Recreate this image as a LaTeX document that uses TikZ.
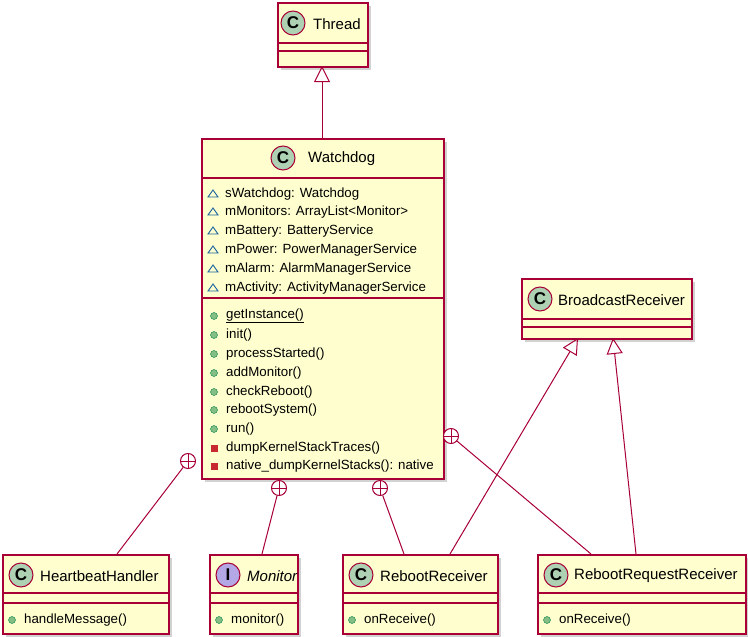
\documentclass[tikz,border=0pt]{standalone}
\usepackage{fontspec}
\setmainfont{Liberation Sans}
\usetikzlibrary{shadows,arrows.meta}
\definecolor{umlred}{HTML}{A80036}
\definecolor{umlfill}{HTML}{FEFECE}
\definecolor{clsicon}{HTML}{ADD1B2}
\definecolor{ificon}{HTML}{B4A7E5}
\definecolor{pubg}{HTML}{84BE84}
\definecolor{pubb}{HTML}{038048}
\definecolor{privr}{HTML}{C82930}
\definecolor{pkgb}{HTML}{1963A0}
\tikzset{
  box/.style={draw=umlred,fill=umlfill,line width=1.5pt,anchor=north west,inner sep=0pt,
    drop shadow={shadow xshift=3pt,shadow yshift=-3pt,fill=black!35}},
  sep/.style={draw=umlred,line width=1.2pt},
  icon/.style={circle,draw=umlred,line width=1pt,minimum size=24pt,inner sep=0pt,font=\fontsize{17}{17}\selectfont\bfseries\rmfamily},
  title/.style={anchor=west,inner sep=0pt,font=\fontsize{15}{15}\selectfont},
  member/.style={anchor=west,inner sep=0pt,font=\fontsize{13.3}{13.3}\selectfont},
  link/.style={draw=umlred,line width=1pt},
  nest/.style={circle,draw=umlred,fill=white,line width=1pt,minimum size=15pt,inner sep=0pt,
    path picture={\draw[umlred,line width=1pt] (path picture bounding box.north)--(path picture bounding box.south)
      (path picture bounding box.west)--(path picture bounding box.east);}},
  inherit/.style={link,-{Triangle[open,length=16pt,width=16pt,line width=1pt]}}
}
\newcommand\pubm[3]{\node[circle,fill=pubg,draw=pubb,minimum size=7pt,inner sep=0pt] at (#1,#2) {};
  \node[member] at (#1+12,#2) {#3};}
\newcommand\privm[3]{\node[rectangle,fill=privr,minimum size=7pt,inner sep=0pt] at (#1,#2) {};
  \node[member] at (#1+12,#2) {#3};}
\newcommand\pkgm[3]{\draw[pkgb,line width=0.9pt] (#1-5,#2+3)--(#1+5,#2+3)--(#1,#2-4)--cycle;
  \node[member] at (#1+12,#2) {#3};}
\begin{document}
\begin{tikzpicture}[x=1pt,y=-1pt]
\useasboundingbox (0,0) rectangle (748,637);
% Thread
\node[box,minimum width=90pt,minimum height=64pt] (thread) at (277,2) {};
\draw[sep] (277,43)--(367,43) (277,51)--(367,51);
\node[icon,fill=clsicon] at (293,23) {C};
\node[title] at (313,24) {Thread};
% Watchdog
\node[box,minimum width=242pt,minimum height=340pt] (wd) at (201,138) {};
\draw[sep] (201,178)--(443,178) (201,298)--(443,298);
\node[icon,fill=clsicon] at (283,158) {C};
\node[title] at (308,159) {Watchdog};
\pkgm{213}{194}{sWatchdog: Watchdog}
\pkgm{213}{212}{mMonitors: ArrayList<Monitor>}
\pkgm{213}{231}{mBattery: BatteryService}
\pkgm{213}{250}{mPower: PowerManagerService}
\pkgm{213}{269}{mAlarm: AlarmManagerService}
\pkgm{213}{288}{mActivity: ActivityManagerService}
\pubm{214}{316}{\underline{getInstance()}}
\pubm{214}{335}{init()}
\pubm{214}{354}{processStarted()}
\pubm{214}{373}{addMonitor()}
\pubm{214}{392}{checkReboot()}
\pubm{214}{410}{rebootSystem()}
\pubm{214}{429}{run()}
\privm{214}{448}{dumpKernelStackTraces()}
\privm{214}{466}{native\_dumpKernelStacks(): native}
% BroadcastReceiver
\node[box,minimum width=170pt,minimum height=60pt] (br) at (521,278) {};
\draw[sep] (521,319)--(691,319) (521,327)--(691,327);
\node[icon,fill=clsicon] at (540,299) {C};
\node[title] at (558,300) {BroadcastReceiver};
% bottom row
\node[box,minimum width=166pt,minimum height=79pt] (hh) at (2,554) {};
\draw[sep] (2,593)--(168,593) (2,603)--(168,603);
\node[icon,fill=clsicon] at (21,575) {C};
\node[title] at (40,576) {HeartbeatHandler};
\pubm{12}{620}{handleMessage()}
\node[box,minimum width=88pt,minimum height=79pt] (mon) at (209,554) {};
\draw[sep] (209,593)--(297,593) (209,603)--(297,603);
\node[icon,fill=ificon] at (228,575) {I};
\node[title] at (247,576) {\itshape Monitor};
\pubm{219}{620}{monitor()}
\node[box,minimum width=155pt,minimum height=79pt] (rr) at (342,554) {};
\draw[sep] (342,593)--(497,593) (342,603)--(497,603);
\node[icon,fill=clsicon] at (361,575) {C};
\node[title] at (380,576) {RebootReceiver};
\pubm{352}{620}{onReceive()}
\node[box,minimum width=208pt,minimum height=79pt] (rqr) at (537,554) {};
\draw[sep] (537,593)--(745,593) (537,603)--(745,603);
\node[icon,fill=clsicon] at (556,575) {C};
\node[title] at (574,576) {RebootRequestReceiver};
\pubm{547}{620}{onReceive()}
% inheritance
\draw[inherit] (322,138) -- (322,66);
\draw[inherit] (450,554) -- (578,338);
\draw[inherit] (636,554) -- (613,338);
% nesting
\node[nest] (n1) at (188,461) {};
\node[nest] (n2) at (279,488) {};
\node[nest] (n3) at (380,488) {};
\node[nest] (n4) at (451,436) {};
\draw[link] (n1) -- (117,554);
\draw[link] (n2) -- (262,554);
\draw[link] (n3) -- (404,554);
\draw[link] (n4) -- (591,554);
\end{tikzpicture}
\end{document}
